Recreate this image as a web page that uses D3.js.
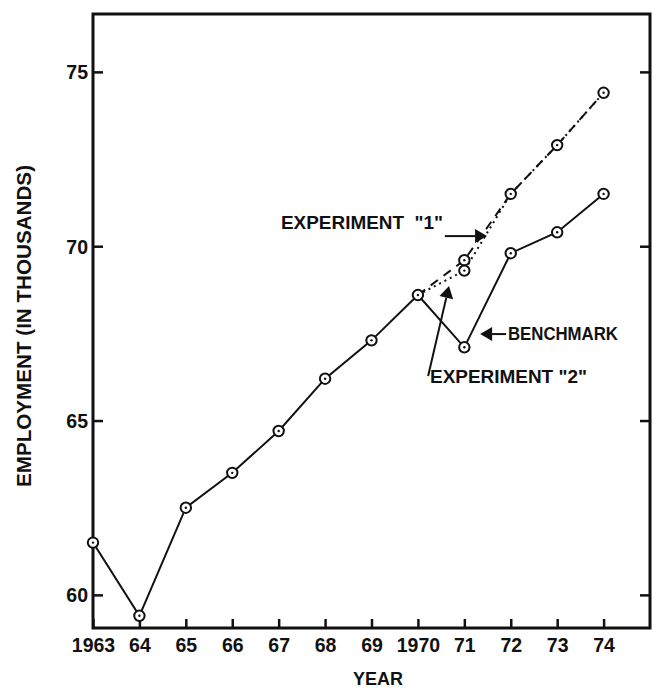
<!DOCTYPE html>
<html>
<head>
<meta charset="utf-8">
<script src="https://cdn.jsdelivr.net/npm/d3@7"></script>
<style>
  body { margin: 0; background: #fff; }
  text { font-family: "Liberation Sans", Arial, sans-serif; font-weight: bold; fill: #111; }
</style>
</head>
<body>
<div id="chart"></div>
<script>
// data
var years = [1963, 1964, 1965, 1966, 1967, 1968, 1969, 1970, 1971, 1972, 1973, 1974];
var benchmark = [61.5, 59.4, 62.5, 63.5, 64.7, 66.2, 67.3, 68.6, 67.1, 69.8, 70.4, 71.5];
var expYears = [1970, 1971, 1972, 1973, 1974];
var experiment1 = [68.6, 69.6, 71.5, 72.9, 74.4];
var experiment2 = [68.6, 69.3, 71.5, 72.9, 74.4];
var yTicks = [60, 65, 70, 75];
var xTickLabels = ["1963", "64", "65", "66", "67", "68", "69", "1970", "71", "72", "73", "74"];

function employment_chart() {
  // 1: dimensions
  var W = 653, H = 691;
  var mLeft = 93, mRight = 650, mTop = 14, mBottom = 628;

  var svg = d3.select("#chart").append("svg")
      .attr("width", W)
      .attr("height", H);

  // 2: scales
  var x = d3.scaleLinear().domain([1963, 1975]).range([mLeft, mRight]);
  var y = d3.scaleLinear().domain([59.05, 76.66]).range([mBottom, mTop]);

  // 3: axes (ticks point inward)
  var yLeft = d3.axisLeft(y).tickValues(yTicks).tickSize(-10).tickPadding(5).tickFormat(d3.format("d"));
  var yRight = d3.axisRight(y).tickValues(yTicks).tickSize(-10).tickFormat("");
  var xBottom = d3.axisBottom(x).tickValues(years).tickSize(-9).tickPadding(10)
      .tickFormat(function(d, i) { return xTickLabels[i]; });

  var gl = svg.append("g").attr("transform", "translate(" + mLeft + ",0)").call(yLeft);
  var gr = svg.append("g").attr("transform", "translate(" + mRight + ",0)").call(yRight);
  var gb = svg.append("g").attr("transform", "translate(0," + mBottom + ")").call(xBottom);

  [gl, gr, gb].forEach(function(g) {
    g.select(".domain").remove();
    g.selectAll(".tick line").attr("stroke", "#111").attr("stroke-width", 2.5);
    g.selectAll("text").style("font-size", "19.5px").attr("fill", "#111");
  });
  gl.selectAll("text").attr("dy", "0.36em");

  // frame
  svg.append("rect")
      .attr("x", mLeft).attr("y", mTop)
      .attr("width", mRight - mLeft).attr("height", mBottom - mTop)
      .attr("fill", "none").attr("stroke", "#111").attr("stroke-width", 3);

  // axis titles
  svg.append("text")
      .attr("transform", "translate(24,326) rotate(-90)")
      .attr("text-anchor", "middle")
      .attr("dy", "0.36em")
      .attr("textLength", 322)
      .attr("lengthAdjust", "spacingAndGlyphs")
      .style("font-size", "20px")
      .style("white-space", "pre")
      .text("EMPLOYMENT (IN THOUSANDS)");

  svg.append("text")
      .attr("x", 378)
      .attr("y", 685)
      .attr("text-anchor", "middle")
      .style("font-size", "18px")
      .text("YEAR");

  // 4: lines
  var line = d3.line()
      .x(function(d) { return x(d[0]); })
      .y(function(d) { return y(d[1]); });

  svg.append("path")
      .datum(d3.zip(expYears, experiment1))
      .attr("d", line)
      .attr("fill", "none").attr("stroke", "#111").attr("stroke-width", 2)
      .attr("stroke-dasharray", "9,7");

  svg.append("path")
      .datum(d3.zip(expYears, experiment2))
      .attr("d", line)
      .attr("fill", "none").attr("stroke", "#111").attr("stroke-width", 2)
      .attr("stroke-dasharray", "2,4");

  svg.append("path")
      .datum(d3.zip(years, benchmark))
      .attr("d", line)
      .attr("fill", "none").attr("stroke", "#111").attr("stroke-width", 2);

  // 5: point markers (circle with centre dot)
  var pts = d3.zip(years, benchmark)
      .concat(d3.zip(expYears, experiment1).slice(1))
      .concat(d3.zip(expYears, experiment2).slice(1, 2));

  var mk = svg.selectAll("g.pt")
      .data(pts)
    .enter().append("g")
      .attr("class", "pt")
      .attr("transform", function(d) { return "translate(" + x(d[0]) + "," + y(d[1]) + ")"; });
  mk.append("circle").attr("r", 5.2).attr("fill", "#fff").attr("stroke", "#111").attr("stroke-width", 2);
  mk.append("circle").attr("r", 1.2).attr("fill", "#111");

  // 6: annotations (in data units)
  var notes = [
    {label: "EXPERIMENT  \"1\"", tx: 1967.05, ty: 70.49, len: 162, a0: [1970.58, 70.29], a1: [1971.49, 70.29]},
    {label: "EXPERIMENT \"2\"", tx: 1970.26, ty: 66.08, len: 157, a0: [1970.22, 66.28], a1: [1970.67, 68.86]},
    {label: "BENCHMARK", tx: 1971.94, ty: 67.31, len: 110, a0: [1971.90, 67.48], a1: [1971.34, 67.48]}
  ];

  var ng = svg.selectAll("g.note").data(notes).enter().append("g").attr("class", "note");

  ng.append("text")
      .attr("x", function(d) { return x(d.tx); })
      .attr("y", function(d) { return y(d.ty); })
      .attr("textLength", function(d) { return d.len; })
      .attr("lengthAdjust", "spacingAndGlyphs")
      .style("font-size", "18px")
      .style("white-space", "pre")
      .text(function(d) { return d.label; });

  ng.each(function(d) {
    var x0 = x(d.a0[0]), y0 = y(d.a0[1]), x1 = x(d.a1[0]), y1 = y(d.a1[1]);
    var ang = Math.atan2(y1 - y0, x1 - x0);
    var hl = 12, hw = 7;
    var bx = x1 - hl * Math.cos(ang), by = y1 - hl * Math.sin(ang);
    d3.select(this).append("line")
        .attr("x1", x0).attr("y1", y0).attr("x2", bx).attr("y2", by)
        .attr("stroke", "#111").attr("stroke-width", 2);
    d3.select(this).append("path")
        .attr("d", "M" + x1 + "," + y1 +
                   "L" + (bx + hw * Math.sin(ang)) + "," + (by - hw * Math.cos(ang)) +
                   "L" + (bx - hw * Math.sin(ang)) + "," + (by + hw * Math.cos(ang)) + "Z")
        .attr("fill", "#111");
  });
}

employment_chart();
</script>
</body>
</html>
